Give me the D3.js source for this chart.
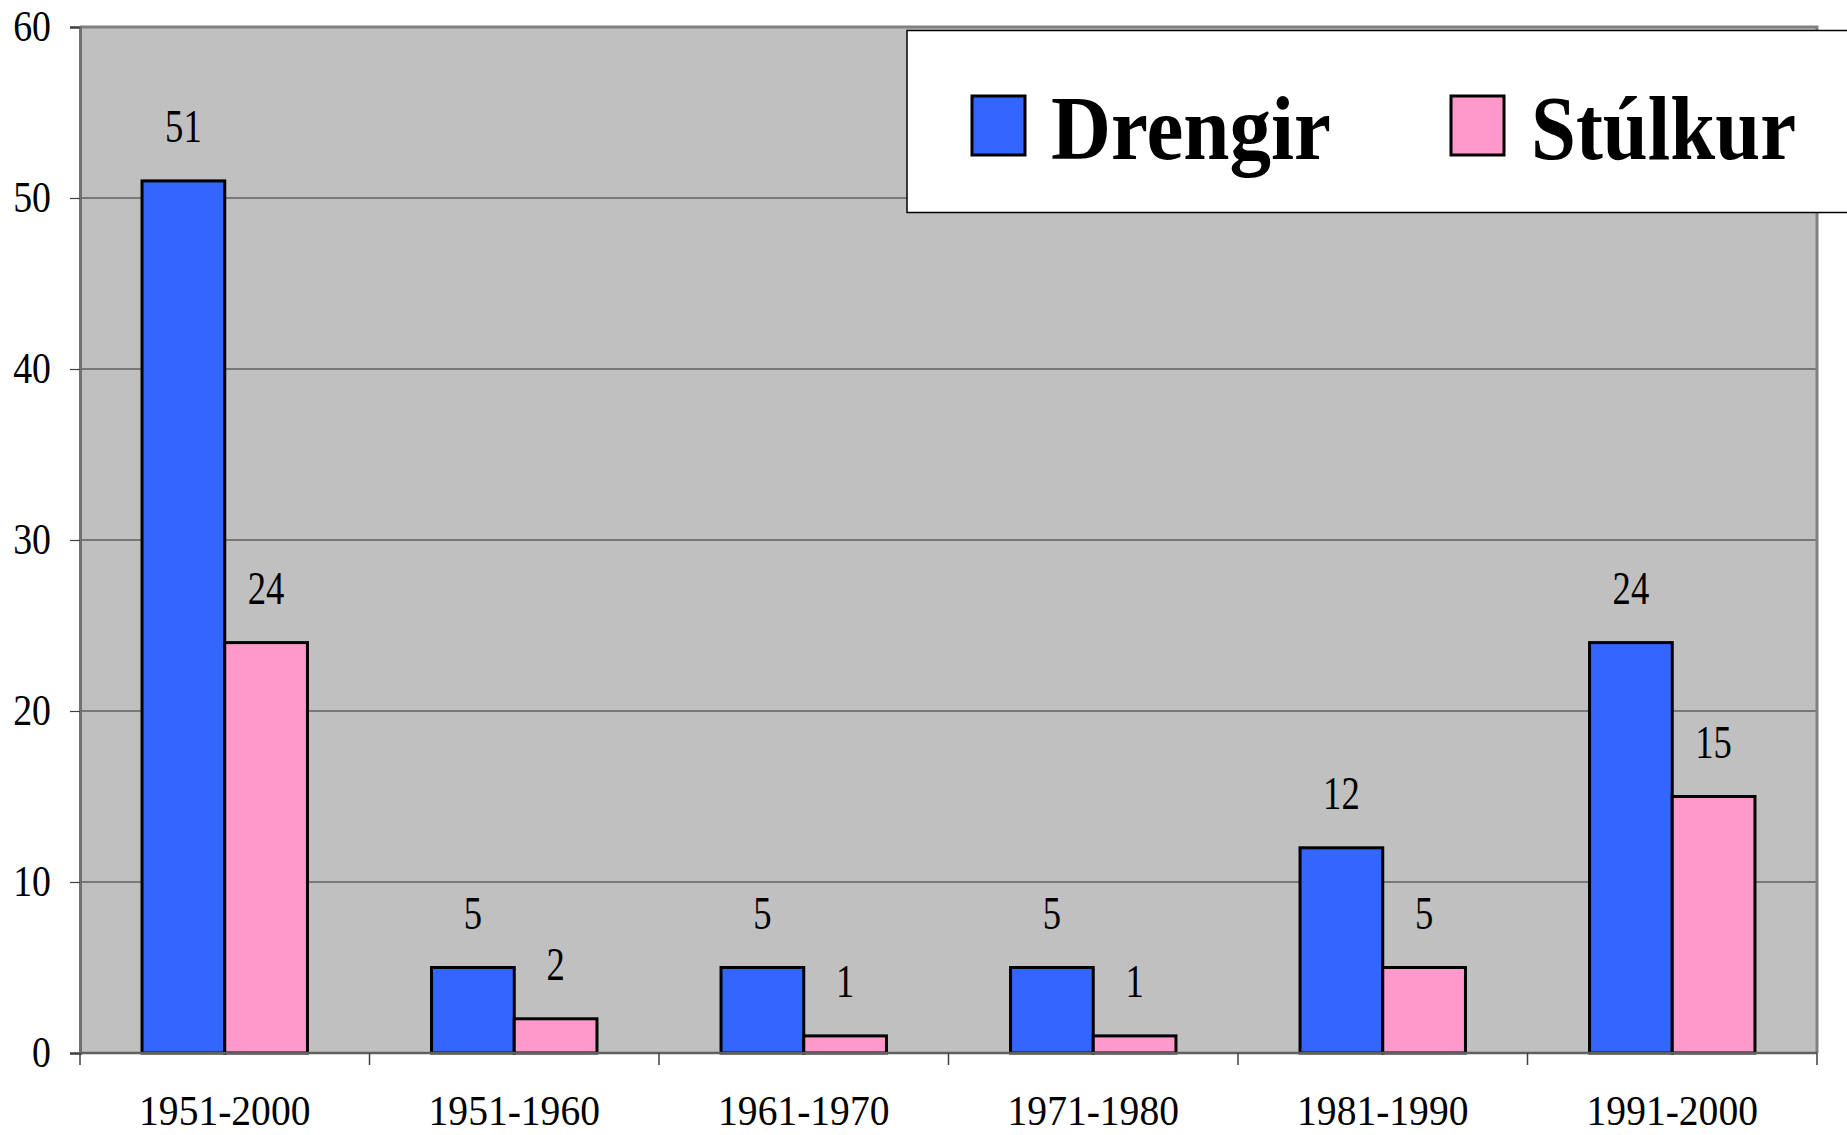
<!DOCTYPE html>
<html>
<head>
<meta charset="utf-8">
<script src="https://cdn.jsdelivr.net/npm/d3@7"></script>
<style>
  html, body { margin: 0; padding: 0; background: #ffffff; }
  svg { display: block; }
  text { font-family: "Liberation Serif", "Times New Roman", serif; fill: #000; }
</style>
</head>
<body>
<svg id="chart" width="1847" height="1135"></svg>
<script>
// ---- data ----
const categories = ["1951-2000", "1951-1960", "1961-1970", "1971-1980", "1981-1990", "1991-2000"];
const seriesNames = ["Drengir", "Stúlkur"];
const drengir = [51, 5, 5, 5, 12, 24];
const stulkur = [24, 2, 1, 1, 5, 15];
const yTicks = [0, 10, 20, 30, 40, 50, 60];
const seriesColors = ["#3366FF", "#FF99CC"];

// ---- layout ----
const svg = d3.select("#chart");
const plot = { left: 80, right: 1817, top: 27, bottom: 1053 };

const x0 = d3.scaleBand().domain(categories).range([plot.left, plot.right]).paddingInner(0).paddingOuter(0);
const x1 = d3.scaleBand().domain(seriesNames).range([0, x0.bandwidth()]).paddingInner(0).paddingOuter(0.75);
const y = d3.scaleLinear().domain([0, 60]).range([plot.bottom, plot.top]);

// plot background
svg.append("rect")
  .attr("x", plot.left).attr("y", plot.top)
  .attr("width", plot.right - plot.left).attr("height", plot.bottom - plot.top)
  .attr("fill", "#C0C0C0");

// gridlines
svg.append("g").selectAll("line").data(yTicks.filter(d => d > 0 && d < 60)).join("line")
  .attr("x1", plot.left).attr("x2", plot.right)
  .attr("y1", d => y(d)).attr("y2", d => y(d))
  .attr("stroke", "#303030").attr("stroke-width", 1.2);

// plot border (top & right)
svg.append("path")
  .attr("d", `M${plot.left},${plot.top}H${plot.right}V${plot.bottom}`)
  .attr("fill", "none").attr("stroke", "#808080").attr("stroke-width", 3);

// bars
const rows = categories.map((c, i) => ({ cat: c, vals: [drengir[i], stulkur[i]] }));
const groups = svg.append("g").selectAll("g").data(rows).join("g")
  .attr("transform", d => `translate(${x0(d.cat)},0)`);
groups.selectAll("rect").data(d => d.vals.map((v, j) => ({ name: seriesNames[j], v, j }))).join("rect")
  .attr("x", d => x1(d.name))
  .attr("y", d => y(d.v))
  .attr("width", x1.bandwidth())
  .attr("height", d => y(0) - y(d.v))
  .attr("fill", d => seriesColors[d.j])
  .attr("stroke", "#000").attr("stroke-width", 3);

// data labels
groups.selectAll("text").data(d => d.vals.map((v, j) => ({ name: seriesNames[j], v, j }))).join("text")
  .attr("transform", d => `translate(${x1(d.name) + x1.bandwidth() / 2},${y(d.v) - 39}) scale(0.78,1)`)
  .attr("text-anchor", "middle")
  .attr("font-size", 47)
  .text(d => d.v);

// y axis
const yAxis = d3.axisLeft(y).tickValues(yTicks).tickSize(10).tickPadding(0).tickFormat(d3.format("d"));
const gy = svg.append("g").attr("transform", `translate(${plot.left},0)`).call(yAxis);
gy.select(".domain").attr("stroke", "#707070").attr("stroke-width", 3);
gy.selectAll(".tick line").attr("stroke", "#404040").attr("stroke-width", 1.2);
gy.selectAll(".tick text").remove();
gy.selectAll(".tick").append("text")
  .attr("transform", "translate(-29,13) scale(0.86,1)")
  .attr("text-anchor", "end")
  .attr("font-size", 44)
  .attr("fill", "#000")
  .text(d => d);

// x axis
const xAxis = d3.axisBottom(x0).tickSize(0).tickPadding(0);
const gx = svg.append("g").attr("transform", `translate(0,${plot.bottom})`).call(xAxis);
gx.select(".domain").remove();
gx.selectAll(".tick text").remove();
svg.append("line")
  .attr("x1", plot.left).attr("x2", plot.right)
  .attr("y1", plot.bottom).attr("y2", plot.bottom)
  .attr("stroke", "#606060").attr("stroke-width", 2.5);
const boundaries = categories.map(c => x0(c)).concat([plot.right]);
svg.append("g").selectAll("line").data(boundaries).join("line")
  .attr("x1", d => d).attr("x2", d => d)
  .attr("y1", plot.bottom).attr("y2", plot.bottom + 12)
  .attr("stroke", "#404040").attr("stroke-width", 1.5);
svg.append("g").selectAll("text").data(categories).join("text")
  .attr("transform", d => `translate(${x0(d) + x0.bandwidth() / 2},1125) scale(0.92,1)`)
  .attr("text-anchor", "middle")
  .attr("font-size", 43)
  .text(d => d);

// legend
const legend = svg.append("g");
legend.append("rect")
  .attr("x", 907).attr("y", 30.5).attr("width", 1000).attr("height", 182)
  .attr("fill", "#fff").attr("stroke", "#000").attr("stroke-width", 1.5);
const legendItems = [
  { name: seriesNames[0], color: seriesColors[0], bx: 972, tx: 1051, tw: 280 },
  { name: seriesNames[1], color: seriesColors[1], bx: 1451, tx: 1531, tw: 265 }
];
legendItems.forEach(it => {
  legend.append("rect")
    .attr("x", it.bx).attr("y", 96).attr("width", 53).attr("height", 59)
    .attr("fill", it.color).attr("stroke", "#000").attr("stroke-width", 3);
  legend.append("text")
    .attr("x", it.tx).attr("y", 159)
    .attr("font-size", 91).attr("font-weight", "bold")
    .attr("textLength", it.tw).attr("lengthAdjust", "spacingAndGlyphs")
    .text(it.name);
});
</script>
</body>
</html>
